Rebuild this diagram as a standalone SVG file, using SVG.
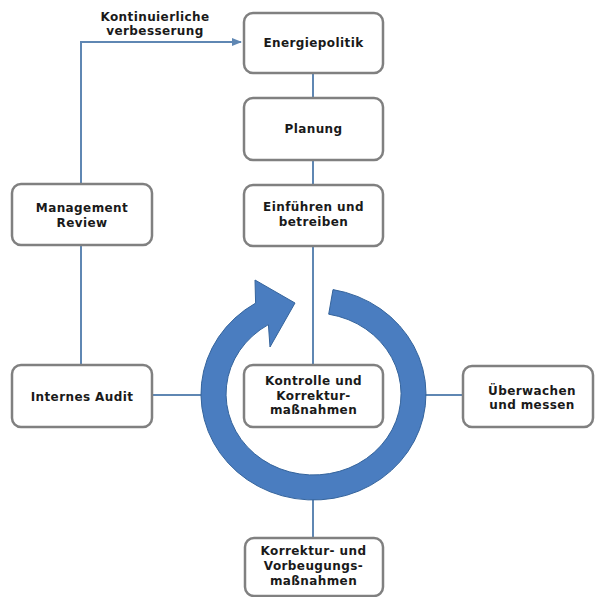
<svg xmlns="http://www.w3.org/2000/svg" width="595" height="597" viewBox="0 0 595 597">
<defs>
<style>
.box{fill:#ffffff;stroke:#808080;stroke-width:2.5}
.t{font-family:"DejaVu Sans","Verdana",sans-serif;font-weight:bold;font-size:12px;letter-spacing:0.4px;fill:#1a1a1a;text-anchor:middle}
.c{fill:none;stroke:#5f87b3;stroke-width:2}
</style>
<marker id="ah" viewBox="0 0 10 10" refX="9" refY="5" markerWidth="5" markerHeight="5" orient="auto" markerUnits="strokeWidth">
<path d="M0,1 L10,5 L0,9 Z" fill="#5f87b3"/>
</marker>
</defs>
<rect width="595" height="597" fill="#ffffff"/>
<g id="connectors">
<line class="c" x1="313" y1="73" x2="313" y2="98"/>
<line class="c" x1="313" y1="160" x2="313" y2="185"/>
<line class="c" x1="313" y1="246" x2="313" y2="365"/>
<line class="c" x1="313" y1="500" x2="313" y2="538"/>
<line class="c" x1="152" y1="395" x2="202" y2="395"/>
<line class="c" x1="425" y1="395" x2="463" y2="395"/>
<line class="c" x1="81" y1="245" x2="81" y2="365"/>
<path class="c" d="M81,184 L81,42 L241,42" marker-end="url(#ah)"/>
</g>
<g id="cycle">
<path d="M333,289.6 A112.5,106 0 1 1 255.6,303.1 L255,280 L295,303 L270,347 L268.4,324.6 A87.5,81 0 1 0 328.7,314.2 Z" fill="#4a7dc0" stroke="#35649c" stroke-width="1"/>
</g>
<g id="label-kontinuierliche">
<text class="t" x="155" y="21">Kontinuierliche</text>
<text class="t" x="155" y="35">verbesserung</text>
</g>
<g id="energiepolitik">
<rect class="box" x="244" y="13" width="139" height="60" rx="9"/>
<text class="t" x="313.5" y="47">Energiepolitik</text>
</g>
<g id="planung">
<rect class="box" x="244" y="98" width="139" height="62" rx="9"/>
<text class="t" x="313.5" y="133">Planung</text>
</g>
<g id="einfuehren">
<rect class="box" x="244" y="185" width="139" height="61" rx="9"/>
<text class="t" x="313.5" y="211">Einführen und</text>
<text class="t" x="313.5" y="226">betreiben</text>
</g>
<g id="management-review">
<rect class="box" x="12" y="184" width="140" height="61" rx="9"/>
<text class="t" x="82" y="212">Management</text>
<text class="t" x="82" y="227">Review</text>
</g>
<g id="internes-audit">
<rect class="box" x="12" y="365" width="140" height="62" rx="9"/>
<text class="t" x="82" y="401">Internes Audit</text>
</g>
<g id="kontrolle">
<rect class="box" x="244" y="365" width="139" height="62" rx="9"/>
<text class="t" x="313.5" y="385">Kontrolle und</text>
<text class="t" x="313.5" y="400">Korrektur-</text>
<text class="t" x="313.5" y="414">maßnahmen</text>
</g>
<g id="ueberwachen">
<rect class="box" x="463" y="366" width="130" height="61" rx="9"/>
<text class="t" x="532" y="395">Überwachen</text>
<text class="t" x="532" y="409">und messen</text>
</g>
<g id="korrektur">
<rect class="box" x="245" y="538" width="138" height="58" rx="9"/>
<text class="t" x="313.5" y="555">Korrektur- und</text>
<text class="t" x="313.5" y="570">Vorbeugungs-</text>
<text class="t" x="313.5" y="585">maßnahmen</text>
</g>
</svg>
